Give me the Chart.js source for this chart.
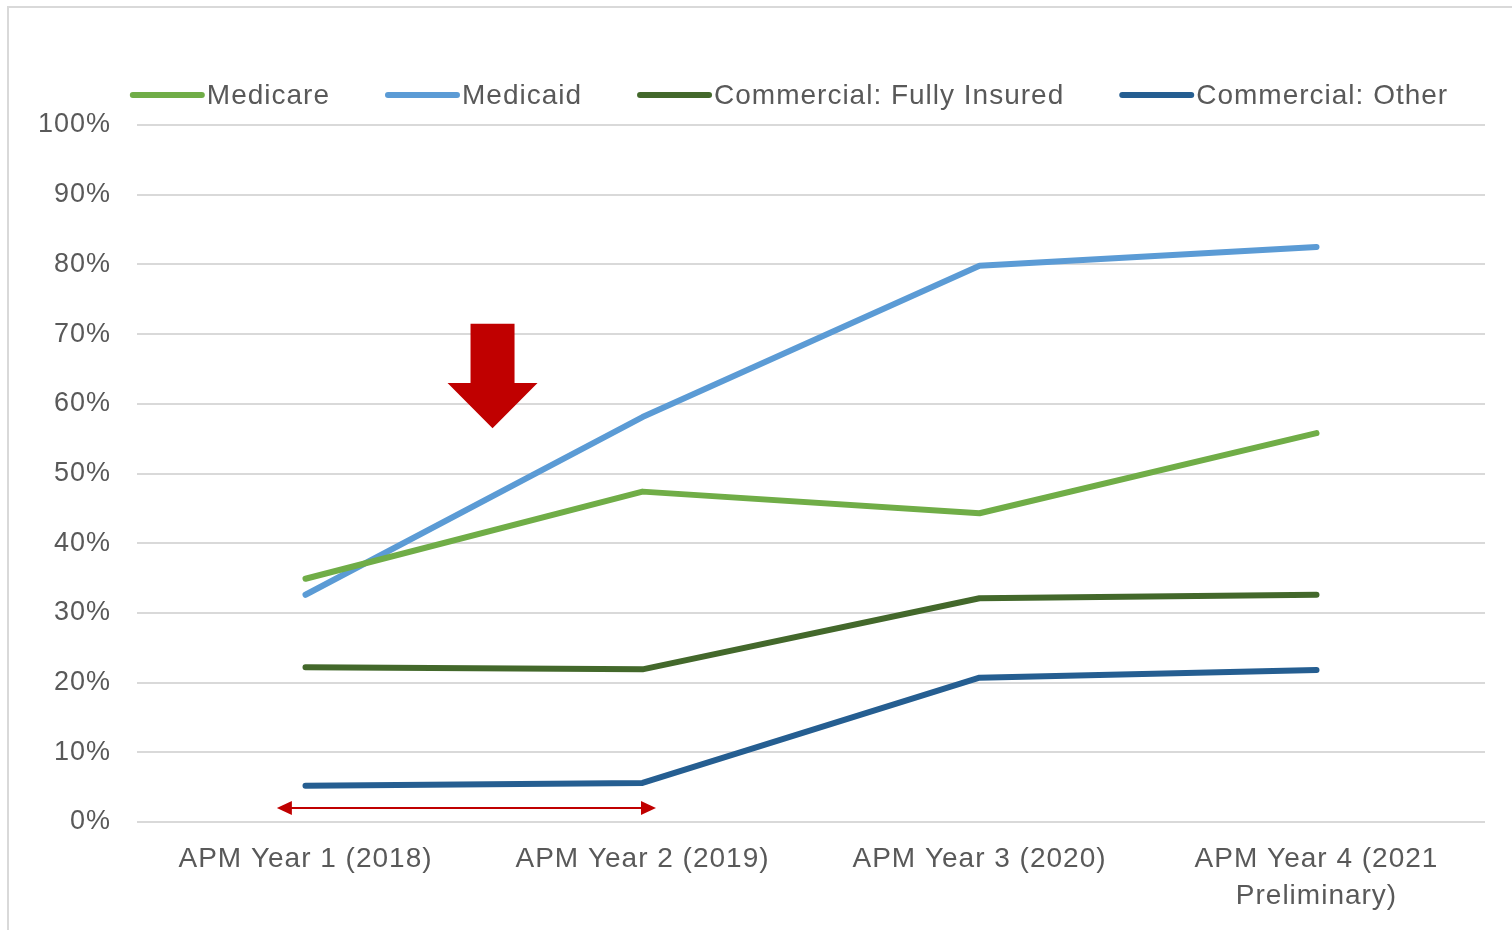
<!DOCTYPE html>
<html>
<head>
<meta charset="utf-8">
<script src="https://cdn.jsdelivr.net/npm/chart.js@4.4.1/dist/chart.umd.min.js"></script>
<style>
    body { margin: 0; background: #ffffff; overflow: hidden; }
    #frame {
        position: absolute; left: 7px; top: 6px;
        width: 1530px; height: 950px;
        border: 2px solid #d9d9d9;
    }
    #chart { position: absolute; left: 0; top: 0; }
</style>
</head>
<body>
<div id="frame"></div>
<canvas id="chart" width="1512" height="930"></canvas>
<script>
const categories = [
    "APM Year 1 (2018)",
    "APM Year 2 (2019)",
    "APM Year 3 (2020)",
    ["APM Year 4 (2021", "Preliminary)"]
];
const seriesNames = ["Medicare", "Medicaid", "Commercial: Fully Insured", "Commercial: Other"];
const medicare = [34.9, 47.4, 44.3, 55.8];
const medicaid = [32.6, 58.1, 79.8, 82.5];
const commercialFully = [22.2, 21.9, 32.1, 32.6];
const commercialOther = [5.2, 5.6, 20.7, 21.8];
const colors = ["#70ad47", "#5b9bd5", "#43682b", "#255e91"];

// anotaciones en coordenadas de datos (indice de categoria, porcentaje)
const downArrow = { x: 0.555, top: 71.5, neck: 63, tip: 56.5 };
const spanArrow = { from: -0.085, to: 1.04, y: 2 };

const FONT = "Liberation Sans";
const TEXT = "#595959";

const spacingPlugin = {
    id: "spacing",
    beforeUpdate(chart) { chart.ctx.letterSpacing = "1px"; },
    beforeDraw(chart) { chart.ctx.letterSpacing = "1px"; }
};

// leyenda dibujada a mano: linea pegada al texto
const legendPlugin = {
    id: "legendLines",
    afterDraw(chart) {
        const ctx = chart.ctx;
        ctx.save();
        ctx.letterSpacing = "1px";
        ctx.font = `28px "${FONT}"`;
        const lineLen = 75, gap = 2, itemGap = 55;
        const widths = chart.data.datasets.map(d => ctx.measureText(d.label).width);
        const total = widths.reduce((a, w) => a + lineLen + gap + w, 0) + itemGap * (widths.length - 1);
        let x = 789 - total / 2;
        const y = 95;
        chart.data.datasets.forEach((d, i) => {
            ctx.strokeStyle = d.borderColor;
            ctx.lineWidth = 6;
            ctx.lineCap = "round";
            ctx.beginPath();
            ctx.moveTo(x + 3, y);
            ctx.lineTo(x + lineLen - 3, y);
            ctx.stroke();
            ctx.fillStyle = TEXT;
            ctx.textBaseline = "middle";
            ctx.textAlign = "left";
            ctx.fillText(d.label, x + lineLen + gap, y + 1);
            x += lineLen + gap + widths[i] + itemGap;
        });
        ctx.restore();
    }
};

const arrowsPlugin = {
    id: "arrows",
    afterDatasetsDraw(chart) {
        const ctx = chart.ctx;
        const xs = chart.scales.x, ys = chart.scales.y;
        ctx.save();
        ctx.fillStyle = "#c00000";
        ctx.strokeStyle = "#c00000";

        // flecha hacia abajo
        const cx = xs.getPixelForValue(downArrow.x);
        const yTop = ys.getPixelForValue(downArrow.top);
        const yNeck = ys.getPixelForValue(downArrow.neck);
        const yTip = ys.getPixelForValue(downArrow.tip);
        ctx.beginPath();
        ctx.moveTo(cx - 22, yTop);
        ctx.lineTo(cx + 22, yTop);
        ctx.lineTo(cx + 22, yNeck);
        ctx.lineTo(cx + 45, yNeck);
        ctx.lineTo(cx, yTip);
        ctx.lineTo(cx - 45, yNeck);
        ctx.lineTo(cx - 22, yNeck);
        ctx.closePath();
        ctx.fill();

        // flecha doble horizontal
        const x1 = xs.getPixelForValue(spanArrow.from);
        const x2 = xs.getPixelForValue(spanArrow.to);
        const yy = ys.getPixelForValue(spanArrow.y);
        ctx.lineWidth = 2;
        ctx.beginPath();
        ctx.moveTo(x1 + 10, yy);
        ctx.lineTo(x2 - 10, yy);
        ctx.stroke();
        ctx.beginPath();
        ctx.moveTo(x1, yy);
        ctx.lineTo(x1 + 15, yy - 7);
        ctx.lineTo(x1 + 15, yy + 7);
        ctx.closePath();
        ctx.fill();
        ctx.beginPath();
        ctx.moveTo(x2, yy);
        ctx.lineTo(x2 - 15, yy - 7);
        ctx.lineTo(x2 - 15, yy + 7);
        ctx.closePath();
        ctx.fill();
        ctx.restore();
    }
};

const makeSet = (label, data, color) => ({
    label: label,
    data: data,
    borderColor: color,
    backgroundColor: color,
    borderWidth: 6,
    borderCapStyle: "round",
    borderJoinStyle: "round",
    pointRadius: 0,
    pointHoverRadius: 0,
    tension: 0,
    fill: false
});

const chart = new Chart(document.getElementById("chart").getContext("2d"), {
    type: "line",
    data: {
        labels: categories,
        datasets: [
            makeSet(seriesNames[0], medicare, colors[0]),
            makeSet(seriesNames[1], medicaid, colors[1]),
            makeSet(seriesNames[2], commercialFully, colors[2]),
            makeSet(seriesNames[3], commercialOther, colors[3])
        ]
    },
    options: {
        responsive: false,
        animation: false,
        layout: { padding: { top: 125, right: 27, left: 37, bottom: 0 } },
        plugins: {
            legend: { display: false },
            tooltip: { enabled: false }
        },
        scales: {
            x: {
                offset: true,
                grid: { display: false, drawTicks: false },
                border: { display: false },
                ticks: {
                    color: TEXT,
                    font: { family: FONT, size: 28, lineHeight: 1.35 },
                    padding: 18,
                    maxRotation: 0,
                    autoSkip: false
                },
                afterFit(scale) { scale.height = 108; }
            },
            y: {
                min: 0,
                max: 100,
                grid: { color: "#d9d9d9", lineWidth: 2, drawTicks: false },
                border: { display: false },
                ticks: {
                    stepSize: 10,
                    color: TEXT,
                    font: { family: FONT, size: 27 },
                    padding: 26,
                    callback: v => v + "%"
                },
                afterFit(scale) { scale.width = 100; }
            }
        }
    },
    plugins: [spacingPlugin, arrowsPlugin, legendPlugin]
});
</script>
</body>
</html>
